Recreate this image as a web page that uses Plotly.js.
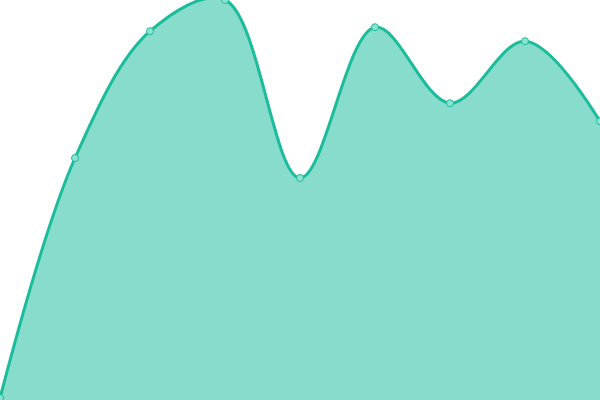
<!DOCTYPE html>
<html><head><meta charset="utf-8">
<script src="https://cdn.plot.ly/plotly-3.0.1.min.js"></script>
<style>html,body{margin:0;padding:0;background:#fff}#c{width:600px;height:400px}</style>
</head><body><div id="c"></div>
<script>
const xs = [0, 1, 2, 3, 4, 5, 6, 7, 8];
const values = [0.5, 60.5, 92.2, 100, 55.5, 93.2, 74.2, 89.7, 69.7];
Plotly.newPlot('c', [{
  x: xs, y: values, type: 'scatter', mode: 'lines+markers',
  fill: 'tozeroy', fillcolor: 'rgba(26,188,156,0.52)',
  line: {shape: 'spline', smoothing: 1, color: '#1abc9c', width: 3},
  marker: {size: 7, color: '#8ce3d2', line: {color: '#1abc9c', width: 1}},
  cliponaxis: false, hoverinfo: 'none'
}], {
  width: 600, height: 400, margin: {l: 0, r: 0, t: 0, b: 0},
  paper_bgcolor: '#fff', plot_bgcolor: '#fff', showlegend: false,
  xaxis: {range: [0, 8], visible: false, fixedrange: true},
  yaxis: {range: [0, 100], visible: false, fixedrange: true}
}, {staticPlot: true});
</script></body></html>
